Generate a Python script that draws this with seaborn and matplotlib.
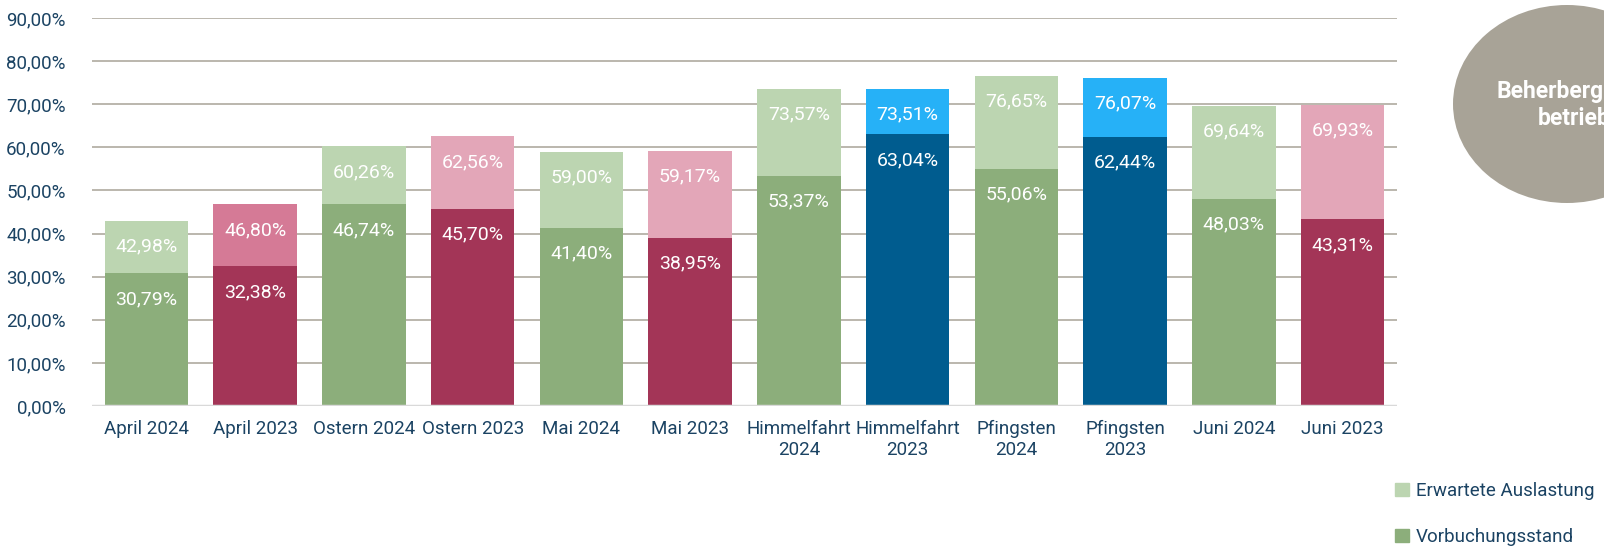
import matplotlib
matplotlib.use("Agg")
import matplotlib.pyplot as plt
from matplotlib.patches import Ellipse, Patch
import seaborn as sns
import pandas as pd

categories = ["April 2024", "April 2023", "Ostern 2024", "Ostern 2023", "Mai 2024", "Mai 2023",
              "Himmelfahrt\n2024", "Himmelfahrt\n2023", "Pfingsten\n2024", "Pfingsten\n2023",
              "Juni 2024", "Juni 2023"]
erwartet = [42.98, 46.80, 60.26, 62.56, 59.00, 59.17, 73.57, 73.51, 76.65, 76.07, 69.64, 69.93]
vorbuchung = [30.79, 32.38, 46.74, 45.70, 41.40, 38.95, 53.37, 63.04, 55.06, 62.44, 48.03, 43.31]
yticks = [0, 10, 20, 30, 40, 50, 60, 70, 80, 90]

G_D, G_L = "#8CAE7B", "#BCD5B1"
R_D, R_L, R_L2 = "#A33557", "#E3A6B8", "#D57A96"
B_D, B_L = "#005C8F", "#26B1F7"
dark_colors = [G_D, R_D, G_D, R_D, G_D, R_D, G_D, B_D, G_D, B_D, G_D, R_D]
light_colors = [G_L, R_L2, G_L, R_L, G_L, R_L, G_L, B_L, G_L, B_L, G_L, R_L]

sns.set_theme(style="white")
plt.rcParams['font.family'] = ['Roboto', 'DejaVu Sans']
TXT = "#1B4363"

df = pd.DataFrame({"cat": categories, "erw": erwartet, "vor": vorbuchung})

fig = plt.figure(figsize=(16.04, 5.51), dpi=100)
ax = fig.add_axes([92/1604, 1-406/551, (1397-92)/1604, (406-18)/551])

sns.barplot(data=df, x="cat", y="erw", hue="cat", palette=light_colors, legend=False,
            width=0.77, saturation=1, linewidth=0, ax=ax, zorder=2)
sns.barplot(data=df, x="cat", y="vor", hue="cat", palette=dark_colors, legend=False,
            width=0.77, saturation=1, linewidth=0, ax=ax, zorder=3)

def fmt(v):
    return f"{v:.2f}".replace(".", ",") + "%"

for i, (e, v) in enumerate(zip(erwartet, vorbuchung)):
    ax.annotate(fmt(e), (i, e), xytext=(0, -18.5), textcoords="offset points",
                ha="center", va="center", color="white", fontsize=14, zorder=5)
    ax.annotate(fmt(v), (i, v), xytext=(0, -18.5), textcoords="offset points",
                ha="center", va="center", color="white", fontsize=14, zorder=5)

ax.set_ylim(0, 90)
ax.set_xlim(-0.5, len(categories) - 0.5)
ax.set_yticks(yticks)
ax.set_yticklabels([f"{t:.2f}".replace(".", ",") + "%" for t in yticks])
ax.set_xlabel("")
ax.set_ylabel("")
ax.tick_params(axis="both", length=0, colors=TXT, labelsize=13.5)
ax.tick_params(axis="y", pad=19)
ax.tick_params(axis="x", pad=10)
for s in ax.spines.values():
    s.set_visible(False)
ax.yaxis.grid(True, color="#A8A397", linewidth=1.1, zorder=0)
ax.set_axisbelow(True)
ax.axhline(0, color="#D9D9D9", linewidth=2.5, zorder=4)

# legend
handles = [Patch(color=G_L, label="Erwartete Auslastung"), Patch(color=G_D, label="Vorbuchungsstand")]
leg = fig.legend(handles=handles, loc="center left", bbox_to_anchor=(1395/1604, 1-514/551),
                 frameon=False, fontsize=13.5, labelcolor=TXT, handlelength=0.75, handleheight=0.75,
                 handletextpad=0.35, labelspacing=1.5, borderaxespad=0, borderpad=0)

# ellipse badge
ell = Ellipse((1567/1604, 1-104/551), 228/1604, 198/551, transform=fig.transFigure,
              facecolor="#A8A397", edgecolor="none", zorder=1)
fig.patches.append(ell)
fig.text(1580/1604, 1-105/551, "Beherbergungs-\nbetriebe", ha="center", va="center",
         color="white", fontsize=16.5, fontweight="bold", linespacing=1.2)

fig.savefig("out.png", dpi=100)
